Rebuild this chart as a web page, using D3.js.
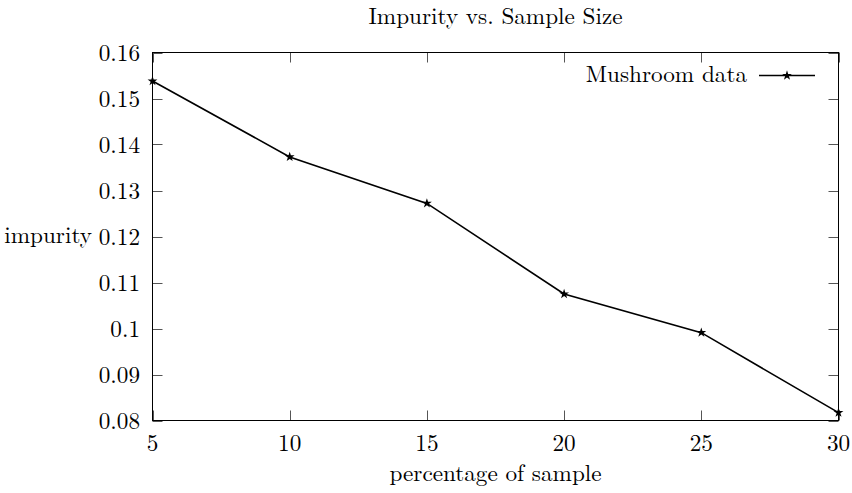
<!DOCTYPE html>
<html>
<head>
<meta charset="utf-8">
<script src="https://cdn.jsdelivr.net/npm/d3@7"></script>
<style>
  html, body { margin: 0; padding: 0; background: #fff; }
</style>
</head>
<body>
<svg id="chart" width="852" height="493"></svg>
<script>
const samplePct = [5, 10, 15, 20, 25, 30];
const impurity = [0.1538, 0.1373, 0.1272, 0.1075, 0.0991, 0.0817];
const xTicks = [5, 10, 15, 20, 25, 30];
const yTicks = [0.08, 0.09, 0.10, 0.11, 0.12, 0.13, 0.14, 0.15, 0.16];
const yTickLabels = ["0.08", "0.09", "0.1", "0.11", "0.12", "0.13", "0.14", "0.15", "0.16"];
const seriesName = "Mushroom data";
const titleText = "Impurity vs. Sample Size";
const xLabel = "percentage of sample";
const yLabel = "impurity";

const plotL = 152.5, plotR = 838.5, plotT = 52.5, plotB = 420.5;
const fs = 23.2;
const FONT = "Latin Modern Roman";

const svg = d3.select("#chart");
const x = d3.scaleLinear().domain([5, 30]).range([plotL, plotR]);
const y = d3.scaleLinear().domain([0.08, 0.16]).range([plotB, plotT]);
const tickLen = 10;
const tickColor = "#555";

function txt(sel) {
  return sel.attr("font-family", FONT).attr("font-size", fs).attr("fill", "#000");
}

// ticks (inward, mirrored)
const g = svg.append("g");
xTicks.forEach(v => {
  const px = Math.round(x(v)) + 0.5;
  g.append("line").attr("x1", px).attr("x2", px).attr("y1", plotB).attr("y2", plotB - tickLen)
    .attr("stroke", tickColor).attr("stroke-width", 1);
  g.append("line").attr("x1", px).attr("x2", px).attr("y1", plotT).attr("y2", plotT + tickLen)
    .attr("stroke", tickColor).attr("stroke-width", 1);
  txt(g.append("text")).attr("x", x(v)).attr("y", 451).attr("text-anchor", "middle").text(v);
});
yTicks.forEach((v, i) => {
  const py = Math.round(y(v)) + 0.5;
  g.append("line").attr("x1", plotL).attr("x2", plotL + tickLen).attr("y1", py).attr("y2", py)
    .attr("stroke", tickColor).attr("stroke-width", 1);
  g.append("line").attr("x1", plotR).attr("x2", plotR - tickLen).attr("y1", py).attr("y2", py)
    .attr("stroke", tickColor).attr("stroke-width", 1);
  txt(g.append("text")).attr("x", 140).attr("y", y(v) + 8).attr("text-anchor", "end").text(yTickLabels[i]);
});

// frame
svg.append("rect").attr("x", plotL).attr("y", plotT).attr("width", plotR - plotL).attr("height", plotB - plotT)
  .attr("fill", "none").attr("stroke", "#000").attr("stroke-width", 1);

// line
const data = samplePct.map((d, i) => ({x: d, y: impurity[i]}));
svg.append("path").datum(data)
  .attr("d", d3.line().x(d => x(d.x)).y(d => y(d.y)))
  .attr("fill", "none").attr("stroke", "#000").attr("stroke-width", 1.6);

const star = d3.symbol().type(d3.symbolStar).size(30);
svg.selectAll(".pt").data(data).enter().append("path")
  .attr("transform", d => `translate(${x(d.x)},${y(d.y)})`)
  .attr("d", star()).attr("fill", "#000");

// legend
txt(svg.append("text")).attr("x", 747).attr("y", 82).attr("text-anchor", "end").text(seriesName);
svg.append("line").attr("x1", 759).attr("x2", 815).attr("y1", 75.5).attr("y2", 75.5)
  .attr("stroke", "#000").attr("stroke-width", 1.3);
svg.append("path").attr("transform", "translate(787,75.5)").attr("d", star()).attr("fill", "#000");

// title and labels
txt(svg.append("text")).attr("x", (plotL + plotR) / 2).attr("y", 24).attr("text-anchor", "middle").text(titleText);
txt(svg.append("text")).attr("x", (plotL + plotR) / 2).attr("y", 481).attr("text-anchor", "middle").text(xLabel);
txt(svg.append("text")).attr("x", 92).attr("y", 243).attr("text-anchor", "end").text(yLabel);
</script>
</body>
</html>
